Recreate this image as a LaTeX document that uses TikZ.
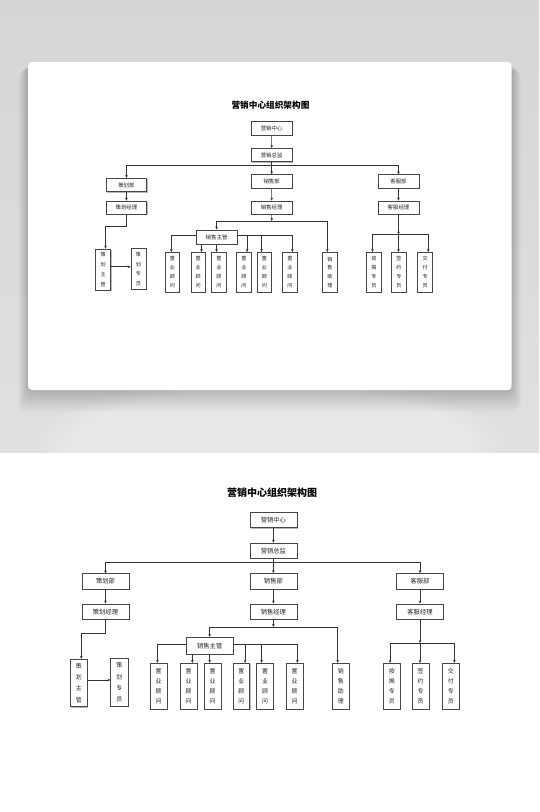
\documentclass[tikz,border=0pt]{standalone}
\usepackage{fontspec}
\newfontfamily\cjk{Noto Sans CJK SC}
\usetikzlibrary{arrows.meta,shadows,fadings}
\definecolor{bgA}{RGB}{214,214,214}
\definecolor{bgB}{RGB}{224,224,224}
\tikzset{
  box/.style={draw=black!72, fill=white, line width=0.65pt, inner sep=0pt,
    minimum width=47pt, minimum height=15.4pt, text=black!85,
    font=\cjk\fontsize{6.3}{7}\selectfont,
    general shadow={fill=black!28, shadow xshift=0.8pt, shadow yshift=-0.8pt}},
  vbox/.style={box, minimum width=16.8pt, minimum height=46pt, align=center,
    font=\cjk\fontsize{5.9}{10.2}\selectfont},
  vboxl/.style={vbox, minimum width=17.3pt, minimum height=47.5pt,
    font=\cjk\fontsize{5.9}{11.3}\selectfont},
  conn/.style={draw=black!80, line width=0.6pt},
  arr/.style={conn, -{Stealth[length=3pt,width=2.6pt]}},
  ttl/.style={font=\cjk\bfseries\fontsize{10}{12}\selectfont, text=black, inner sep=0pt},
}
\newcommand\orgchart[2]{%
  \node[ttl] (#1t) at (272,493) {营销中心组织架构图};
  \node[box] (#1zx) at (273.4,520) {营销中心};
  \node[box] (#1zj) at (273.4,550.8) {营销总监};
  \node[box] (#1ch) at (105.5,{581.5+#2}) {策划部};
  \node[box] (#1xs) at (273.4,581.2) {销售部};
  \node[box] (#1kf) at (420,581.2) {客服部};
  \node[box] (#1chj) at (105.5,611.6) {策划经理};
  \node[box] (#1xsj) at (273.4,611.6) {销售经理};
  \node[box] (#1kfj) at (420,611.6) {客服经理};
  \node[vboxl] (#1chz) at (78.7,683) {策\\划\\主\\管};
  \node[vboxl] (#1chy) at (119.4,682.5) {策\\划\\专\\员};
  \node[box, minimum height=17pt] (#1xsz) at (209.7,645.8) {销售主管};
  \node[vbox] (#1z1) at (158.5,686.3) {置\\业\\顾\\问};
  \node[vbox] (#1z2) at (188.5,686.3) {置\\业\\顾\\问};
  \node[vbox] (#1z3) at (212.5,686.3) {置\\业\\顾\\问};
  \node[vbox] (#1z4) at (241.3,686.3) {置\\业\\顾\\问};
  \node[vbox] (#1z5) at (265,686.3) {置\\业\\顾\\问};
  \node[vbox] (#1z6) at (294.5,686.3) {置\\业\\顾\\问};
  \node[vbox] (#1zl) at (340.7,686.3) {销\\售\\助\\理};
  \node[vbox] (#1aj) at (391.7,686.3) {按\\揭\\专\\员};
  \node[vbox] (#1qy) at (420.5,686.3) {签\\约\\专\\员};
  \node[vbox] (#1jf) at (450.7,686.3) {交\\付\\专\\员};
  % helper coordinates
  \coordinate (#1b1) at (273.4,562.7);
  \coordinate (#1b2) at (273.4,627);
  \coordinate (#1b3) at (0,644);
  \coordinate (#1b4) at (420,643);
  \coordinate (#1p1) at (81.3,633);
  \coordinate (#1p2) at (0,680);
  \coordinate (#1x1) at (157.3,0);
  \coordinate (#1x2) at (192.3,0);
  \coordinate (#1x3) at (209.7,0);
  \coordinate (#1x4) at (245,0);
  \coordinate (#1x5) at (261.7,0);
  \coordinate (#1x6) at (297.3,0);
  \coordinate (#1x7) at (337.7,0);
  \coordinate (#1x8) at (390,0);
  \coordinate (#1x10) at (454.3,0);
  % connectors
  \draw[arr] (#1zx) -- (#1zj);
  \draw[conn] (#1zj.south) -- (#1b1);
  \draw[arr] (#1b1) -- (#1xs.north);
  \draw[arr] (#1b1) -| (#1ch.north);
  \draw[arr] (#1b1) -| (#1kf.north);
  \draw[arr] (#1ch) -- (#1chj);
  \draw[arr] (#1xs) -- (#1xsj);
  \draw[arr] (#1kf) -- (#1kfj);
  \draw[arr] (#1chj.south) |- (#1p1) -- (#1p1 |- #1chz.north);
  \draw[arr] (#1chz.east |- #1p2) -- (#1chy.west |- #1p2);
  \draw[arr] (#1xsj) -- (#1b2);
  \draw[arr] (#1b2) -| (#1xsz.north);
  \draw[arr] (#1b2) -| (#1x7 |- #1zl.north);
  \draw[arr] (#1xsz.west |- #1b3) -| (#1x1 |- #1z1.north);
  \draw[arr] (#1xsz.east |- #1b3) -| (#1x6 |- #1z6.north);
  \draw[arr] (#1x4 |- #1b3) -- (#1x4 |- #1z4.north);
  \draw[arr] (#1x5 |- #1b3) -- (#1x5 |- #1z5.north);
  \draw[arr] (#1x2 |- #1xsz.south) -- (#1x2 |- #1z2.north);
  \draw[arr] (#1x3 |- #1xsz.south) -- (#1x3 |- #1z3.north);
  \draw[arr] (#1kfj) -- (#1b4);
  \draw[arr] (#1b4) -- (#1b4 |- #1qy.north);
  \draw[arr] (#1b4) -| (#1x8 |- #1aj.north);
  \draw[arr] (#1b4) -| (#1x10 |- #1jf.north);
}
\begin{document}
\begin{tikzpicture}[x=1pt,y=-1pt]
\useasboundingbox (0,0) rectangle (539,812);
\fill[white] (0,0) rectangle (539,812);
\shade[top color=bgA, bottom color=bgB] (0,0) rectangle (539,452);
\begin{scope}
  \clip (0,0) rectangle (539,452);
  \fill[white, opacity=0.3, path fading=circle with fuzzy edge 20 percent] (270,445) ellipse (240 and 70);
\end{scope}
\foreach \i in {1,...,16} {
  \fill[black, opacity=0.012, rounded corners=8pt] ({28-0.6*\i},{62+0.5*\i}) rectangle ({511.7+0.6*\i},{390+1.4*\i});
}
\fill[white, rounded corners=4pt] (28,62) rectangle (511.7,390);
\begin{scope}[shift={(35.2,-321.4)}, scale=0.865, transform shape]
  \orgchart{s}{4}
\end{scope}
\orgchart{b}{0}
\end{tikzpicture}
\end{document}
